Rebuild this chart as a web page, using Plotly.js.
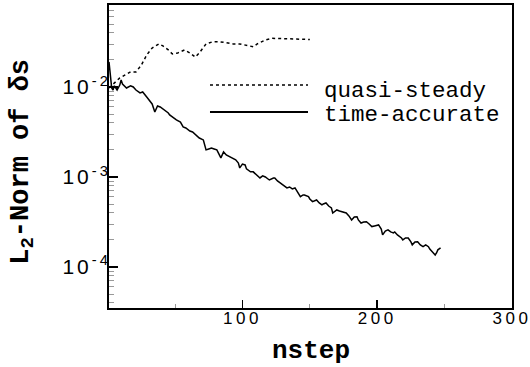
<!DOCTYPE html>
<html>
<head>
<meta charset="utf-8">
<script src="https://cdn.plot.ly/plotly-3.0.1.min.js"></script>
<style>html,body{margin:0;padding:0;background:#fff;}#chart{width:530px;height:367px;}
.xtick text{letter-spacing:3.5px;}
.ytick text{letter-spacing:3px;}</style>
</head>
<body>
<div id="chart"></div>
<script>
// quasi-steady (dashed)
const qsX = [1, 5, 9, 13, 17, 21, 25, 29, 33, 38, 41, 45, 48, 52, 57, 61, 65, 68, 73, 78, 83, 88, 93, 98, 103, 108, 111, 117, 122, 128, 134, 140, 145, 150];
const qsY = [0.00975, 0.0111, 0.0126, 0.0136, 0.0147, 0.0147, 0.0175, 0.0227, 0.0271, 0.0301, 0.0286, 0.0258, 0.0233, 0.0239, 0.0258, 0.0239, 0.0215, 0.0239, 0.0301, 0.0318, 0.0318, 0.0310, 0.0301, 0.0301, 0.0293, 0.0280, 0.0301, 0.0333, 0.0347, 0.0347, 0.0347, 0.0341, 0.0339, 0.0337];

// time-accurate (solid)
const taX = [1, 3, 4, 5, 7, 9, 10, 11, 14, 17, 19, 21, 24, 26, 29, 31, 33, 35, 37, 39, 41, 42, 45, 46, 48, 51, 54, 56, 58, 61, 63, 65, 68, 71, 73, 75, 77, 79, 81, 84, 86, 88, 91, 93, 95, 97, 98, 100, 102, 103, 106, 108, 109, 111, 113, 115, 117, 119, 120, 123, 124, 126, 128, 130, 133, 135, 137, 139, 141, 143, 145, 146, 149, 150, 152, 155, 157, 159, 160, 162, 164, 166, 167, 170, 172, 174, 175, 177, 179, 181, 183, 185, 186, 188, 190, 192, 194, 196, 198, 201, 203, 204, 206, 208, 210, 212, 213, 215, 218, 219, 221, 223, 225, 226, 228, 230, 232, 234, 236, 238, 239, 241, 243, 244, 245, 247];
const taY = [0.0190, 0.00975, 0.00926, 0.0103, 0.00926, 0.0105, 0.0120, 0.0108, 0.00975, 0.0103, 0.0100, 0.00926, 0.00858, 0.0088, 0.00774, 0.00717, 0.00648, 0.00527, 0.00615, 0.0060, 0.0057, 0.00555, 0.00514, 0.00489, 0.00464, 0.0043, 0.00408, 0.0036, 0.0035, 0.00324, 0.00316, 0.0030, 0.00271, 0.00258, 0.0020, 0.00205, 0.0021, 0.00205, 0.0020, 0.00163, 0.0019, 0.00176, 0.00167, 0.00158, 0.00155, 0.00143, 0.00126, 0.00139, 0.00136, 0.00123, 0.00114, 0.00114, 0.00111, 0.00105, 0.000975, 0.00103, 0.0010, 0.00095, 0.000926, 0.000975, 0.000975, 0.000903, 0.000858, 0.000815, 0.000755, 0.000774, 0.000736, 0.000755, 0.000664, 0.000604, 0.000631, 0.000631, 0.000604, 0.00057, 0.000532, 0.000555, 0.000514, 0.000489, 0.000501, 0.000514, 0.000476, 0.000453, 0.000398, 0.00043, 0.000419, 0.000411, 0.000408, 0.000398, 0.000369, 0.000333, 0.00036, 0.000362, 0.000333, 0.000308, 0.000316, 0.000318, 0.0003, 0.000281, 0.000286, 0.000293, 0.000264, 0.000227, 0.000251, 0.000258, 0.000245, 0.000239, 0.000245, 0.000227, 0.00021, 0.0002, 0.00021, 0.00021, 0.00019, 0.000176, 0.00019, 0.000191, 0.000176, 0.000168, 0.000176, 0.000168, 0.000158, 0.000147, 0.000136, 0.000143, 0.000155, 0.000163];

const xTickVals = [100, 200, 300];
const xTickText = ['100', '200', '300'];
const xMinorVals = [50, 150, 250];
const yTickVals = [1e-4, 1e-3, 1e-2];
const yTickText = ['10<sup>-4</sup>', '10<sup>-3</sup>', '10<sup>-2</sup>'];
const yMinorVals = [4e-5,5e-5,6e-5,7e-5,8e-5,9e-5, 2e-4,3e-4,4e-4,5e-4,6e-4,7e-4,8e-4,9e-4, 2e-3,3e-3,4e-3,5e-3,6e-3,7e-3,8e-3,9e-3, 2e-2,3e-2,4e-2,5e-2,6e-2,7e-2,8e-2];
const legendNames = ['quasi-steady', 'time-accurate'];
const xTitle = '<b>nstep</b>';
const yTitle = '<b>L<sub>2</sub>-Norm of δs</b>';

const traces = [
  {x: qsX, y: qsY, mode: 'lines', name: legendNames[0], line: {color: '#000', width: 1.5, dash: '3px,3px'}},
  {x: taX, y: taY, mode: 'lines', name: legendNames[1], line: {color: '#000', width: 1.5}}
];

const mono = 'Liberation Mono, Courier New, monospace';
const sans = 'Liberation Sans, Arial, sans-serif';

const layout = {
  width: 530, height: 367,
  margin: {l: 109, r: 18, t: 5, b: 59},
  paper_bgcolor: '#fff', plot_bgcolor: '#fff',
  showlegend: false,
  xaxis: {
    range: [1, 300],
    tickmode: 'array', tickvals: xTickVals, ticktext: xTickText,
    ticks: 'inside', ticklen: 8, tickwidth: 1.5, tickcolor: '#000',
    minor: {tickmode: 'array', tickvals: xMinorVals, ticks: 'inside', ticklen: 4, tickwidth: 1, tickcolor: '#999'},
    showgrid: false, zeroline: false,
    showline: true, linecolor: '#000', linewidth: 2, mirror: true,
    tickfont: {family: sans, size: 17, color: '#000'},
    ticklabelstandoff: -6,
    ticklabeloverflow: 'allow'
  },
  yaxis: {
    type: 'log',
    range: [-4.456, -1.089],
    tickmode: 'array', tickvals: yTickVals, ticktext: yTickText,
    ticks: 'inside', ticklen: 9, tickwidth: 1.5, tickcolor: '#000',
    minor: {tickmode: 'array', tickvals: yMinorVals, ticks: 'inside', ticklen: 5, tickwidth: 1, tickcolor: '#999'},
    showgrid: false, zeroline: false,
    showline: true, linecolor: '#000', linewidth: 2, mirror: true,
    tickfont: {family: sans, size: 21, color: '#000'},
    ticklabelstandoff: -8,
    ticklabeloverflow: 'allow'
  },
  shapes: [
    {type: 'line', xref: 'paper', yref: 'paper', x0: 0.2506, x1: 0.4938, y0: 0.736, y1: 0.736, line: {color: '#000', width: 1.5, dash: '3px,3px'}},
    {type: 'line', xref: 'paper', yref: 'paper', x0: 0.2506, x1: 0.4938, y0: 0.6469, y1: 0.6469, line: {color: '#000', width: 1.8}}
  ],
  annotations: [
    {xref: 'paper', yref: 'paper', x: 0.5285, y: 0.716, xanchor: 'left', yanchor: 'middle', showarrow: false, text: legendNames[0], font: {family: mono, size: 22.5, color: '#000'}},
    {xref: 'paper', yref: 'paper', x: 0.5285, y: 0.637, xanchor: 'left', yanchor: 'middle', showarrow: false, text: legendNames[1], font: {family: mono, size: 22.5, color: '#000'}},
    {xref: 'paper', yref: 'paper', x: 0.5, y: -0.141, xanchor: 'center', yanchor: 'middle', borderpad: 0, showarrow: false, text: xTitle, font: {family: mono, size: 26, color: '#000'}},
    {xref: 'paper', yref: 'paper', x: -0.214, y: 0.482, xanchor: 'center', yanchor: 'middle', textangle: -90, showarrow: false, text: yTitle, font: {family: mono, size: 27, color: '#000'}}
  ]
};

Plotly.newPlot('chart', traces, layout, {displayModeBar: false, staticPlot: true});
</script>
</body>
</html>
